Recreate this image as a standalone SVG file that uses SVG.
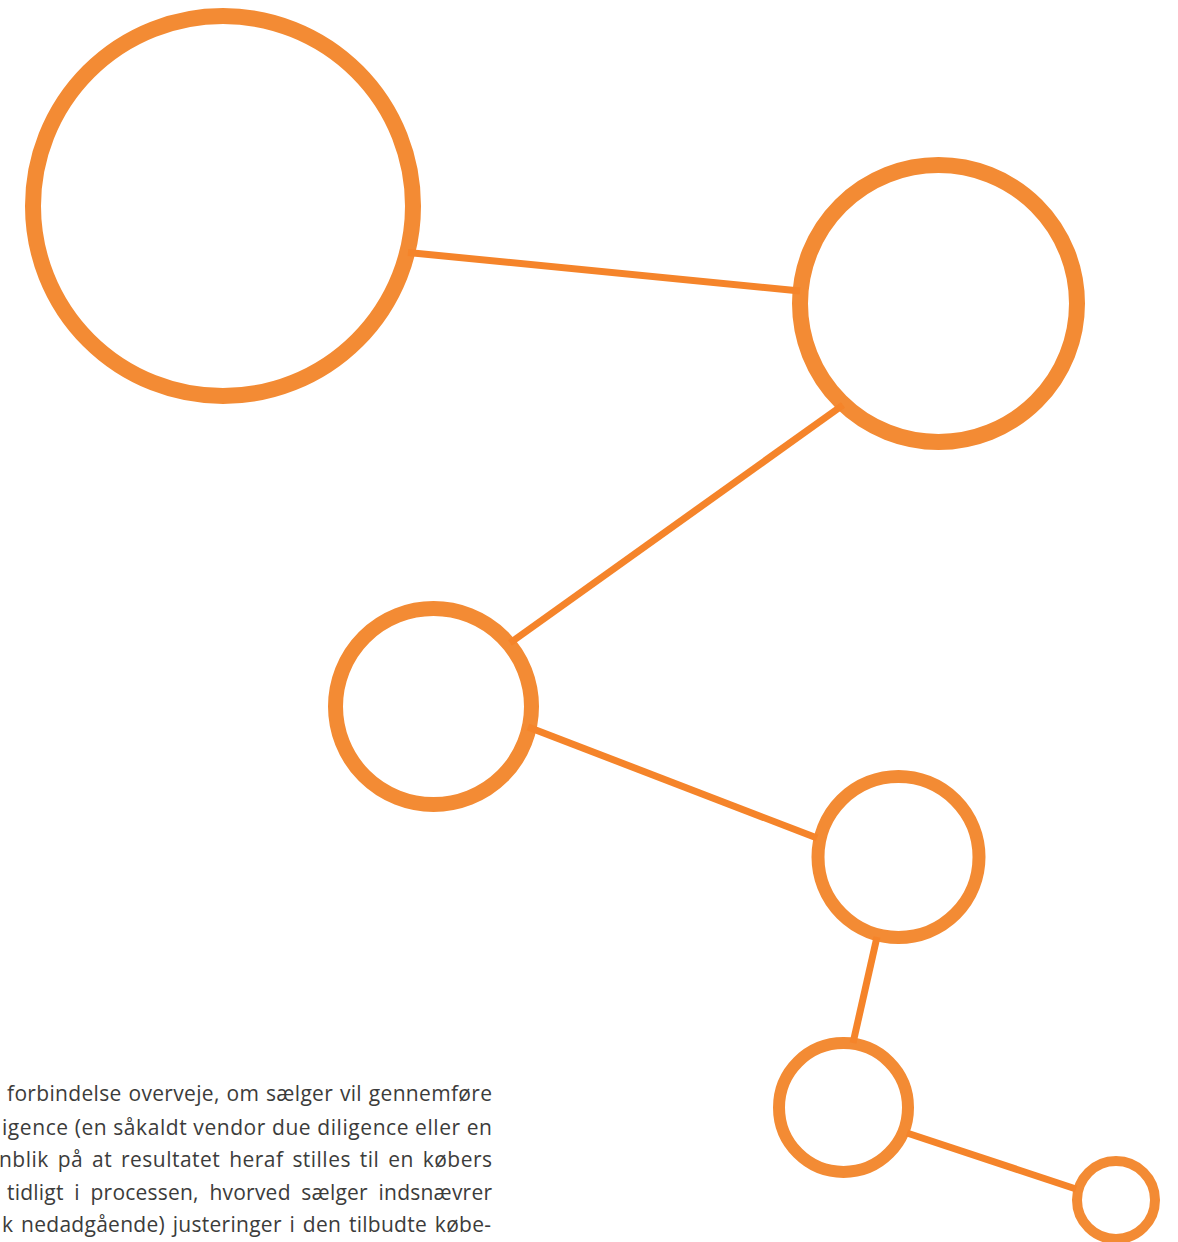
<svg xmlns="http://www.w3.org/2000/svg" width="1178" height="1242" viewBox="0 0 1178 1242">
<style>
.node{fill:none;stroke:#F38B34}
.edge{stroke:#F5842A;stroke-width:7;fill:none}
.body{font-family:"Open Sans","Noto Sans","Liberation Sans",sans-serif;font-size:21px;fill:#3C3C3B}
</style>
<rect width="1178" height="1242" fill="#ffffff"/>
<g id="nodes">
<g id="n1"><circle class="node" cx="223" cy="206" r="190" stroke-width="16"/></g>
<g id="n2"><circle class="node" cx="938.5" cy="303.5" r="138.5" stroke-width="16"/></g>
<g id="n3"><circle class="node" cx="433.5" cy="706.5" r="98" stroke-width="15"/></g>
<g id="n4"><circle class="node" cx="898.5" cy="857" r="80.5" stroke-width="13"/></g>
<g id="n5"><circle class="node" cx="843.5" cy="1107.5" r="64.5" stroke-width="12"/></g>
<g id="n6"><circle class="node" cx="1116" cy="1200" r="39" stroke-width="10"/></g>
</g>
<g id="connectors">
<line class="edge" x1="408" y1="252.5" x2="800" y2="291"/>
<line class="edge" x1="843" y1="405" x2="510" y2="643"/>
<line class="edge" x1="528" y1="727" x2="817" y2="838"/>
<line class="edge" x1="877" y1="937" x2="853" y2="1043"/>
<line class="edge" x1="907" y1="1133" x2="1076" y2="1189"/>
</g>
<g id="text" class="body">
<text x="7" y="1101" textLength="485" lengthAdjust="spacing" word-spacing="1">forbindelse overveje, om sælger vil gennemføre</text>
<text x="2" y="1134.5" textLength="490" lengthAdjust="spacing" word-spacing="0">igence (en såkaldt vendor due diligence eller en</text>
<text x="-1" y="1167" textLength="493" lengthAdjust="spacing" word-spacing="3">nblik på at resultatet heraf stilles til en købers</text>
<text x="7" y="1200" textLength="485" lengthAdjust="spacing" word-spacing="5">tidligt i processen, hvorved sælger indsnævrer</text>
<text x="2" y="1232" textLength="489" lengthAdjust="spacing" word-spacing="2">k nedadgående) justeringer i den tilbudte købe-</text>
</g>
</svg>
